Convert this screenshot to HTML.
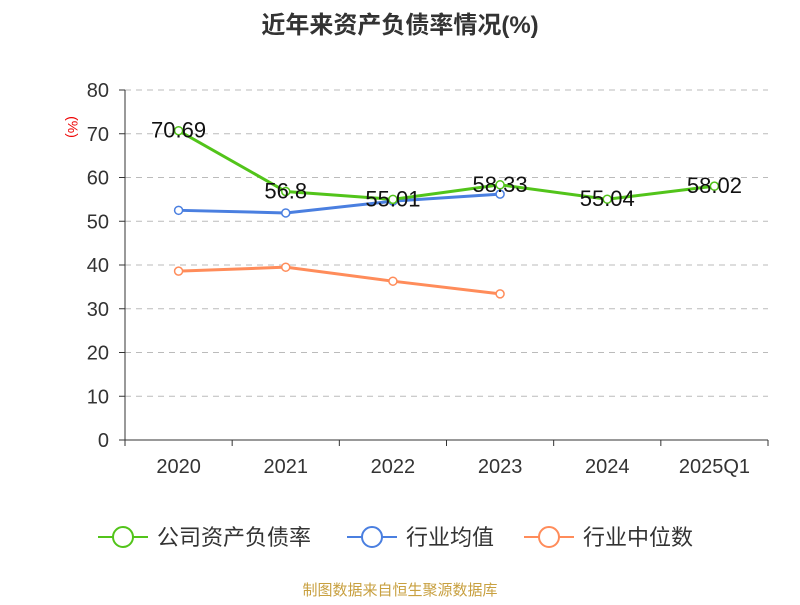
<!DOCTYPE html>
<html><head><meta charset="utf-8">
<style>
body{margin:0;background:#fff;}
svg text{font-family:"Liberation Sans","Noto Sans CJK SC",sans-serif;}
</style></head>
<body>
<svg id="chart" width="800" height="600">
<text x="400" y="33" text-anchor="middle" font-size="24" font-weight="bold" fill="#333">近年来资产负债率情况(%)</text>
<text x="68" y="127" text-anchor="middle" font-size="14" fill="#e00" transform="rotate(90 68 127)">(%)</text>
<g id="grid"></g><g id="axes"></g><g id="series"></g>
<g>
<g><line x1="98" y1="537" x2="148" y2="537" stroke="#52c41a" stroke-width="2"/><circle cx="123" cy="537" r="10" fill="#fff" stroke="#52c41a" stroke-width="2"/><text x="157" y="545" font-size="22" fill="#333">公司资产负债率</text></g>
<g><line x1="347" y1="537" x2="397" y2="537" stroke="#4a7fe0" stroke-width="2"/><circle cx="372" cy="537" r="10" fill="#fff" stroke="#4a7fe0" stroke-width="2"/><text x="406" y="545" font-size="22" fill="#333">行业均值</text></g>
<g><line x1="524" y1="537" x2="574" y2="537" stroke="#ff8c5a" stroke-width="2"/><circle cx="549" cy="537" r="10" fill="#fff" stroke="#ff8c5a" stroke-width="2"/><text x="583" y="545" font-size="22" fill="#333">行业中位数</text></g>
</g>
<text x="400" y="595" text-anchor="middle" font-size="15" fill="#c8a040">制图数据来自恒生聚源数据库</text>
</svg>
<script>
const categories=["2020","2021","2022","2023","2024","2025Q1"];
const companyValues=[70.69,56.8,55.01,58.33,55.04,58.02];
const companyLabels=["70.69","56.8","55.01","58.33","55.04","58.02"];
const avgValues=[52.5,51.9,54.6,56.2];
const medianValues=[38.6,39.5,36.3,33.4];
const yTicks=[0,10,20,30,40,50,60,70,80];
const NS="http://www.w3.org/2000/svg";
const x0=125,x1=768,yB=440,yT=90,yMax=80;
const bw=(x1-x0)/categories.length;
const xs=i=>x0+bw*(i+0.5);
const ys=v=>yB-(v/yMax)*(yB-yT);
function mk(t,a,p){const e=document.createElementNS(NS,t);for(const k in a)e.setAttribute(k,a[k]);p.appendChild(e);return e;}
const grid=document.getElementById('grid'),axes=document.getElementById('axes'),ser=document.getElementById('series');
yTicks.forEach(v=>{
 if(v>0){const g=mk('line',{x1:x0,x2:x1,y1:ys(v),y2:ys(v),stroke:'#bbb','stroke-dasharray':'6,5'},grid);
 
 }
 const tk=mk('line',{x1:x0-6,x2:x0,y1:ys(v),y2:ys(v),stroke:'#333'},axes);
 
 
 const t=mk('text',{x:x0-16,y:ys(v)+7,'text-anchor':'end','font-size':20,fill:'#333'},axes);t.textContent=v;
 
 
});
const ya=mk('line',{x1:x0,x2:x0,y1:yT,y2:yB,stroke:'#333'},axes);


const xa=mk('line',{x1:x0,x2:x1,y1:yB,y2:yB,stroke:'#333'},axes);


for(let i=0;i<=categories.length;i++){const tk=mk('line',{x1:x0+bw*i,x2:x0+bw*i,y1:yB,y2:yB+6,stroke:'#333'},axes);
 
 }
categories.forEach((c,i)=>{const t=mk('text',{x:xs(i),y:473,'text-anchor':'middle','font-size':20,fill:'#333'},axes);t.textContent=c;
 
 });
function line(vals,color,name){
 const p=mk('polyline',{points:vals.map((v,i)=>xs(i)+','+ys(v)).join(' '),fill:'none',stroke:color,'stroke-width':3},ser);
 
 
 vals.forEach((v,i)=>{const c=mk('circle',{cx:xs(i),cy:ys(v),r:4,fill:'#fff',stroke:color,'stroke-width':1.5},ser);
 
 });
}
line(avgValues,'#4a7fe0','industry-avg');
line(medianValues,'#ff8c5a','industry-median');
line(companyValues,'#52c41a','company');
companyValues.forEach((v,i)=>{const t=mk('text',{x:xs(i),y:ys(v)+7,'text-anchor':'middle','font-size':22,fill:'#111'},ser);t.textContent=companyLabels[i];
 
 });
</script>
</body></html>
